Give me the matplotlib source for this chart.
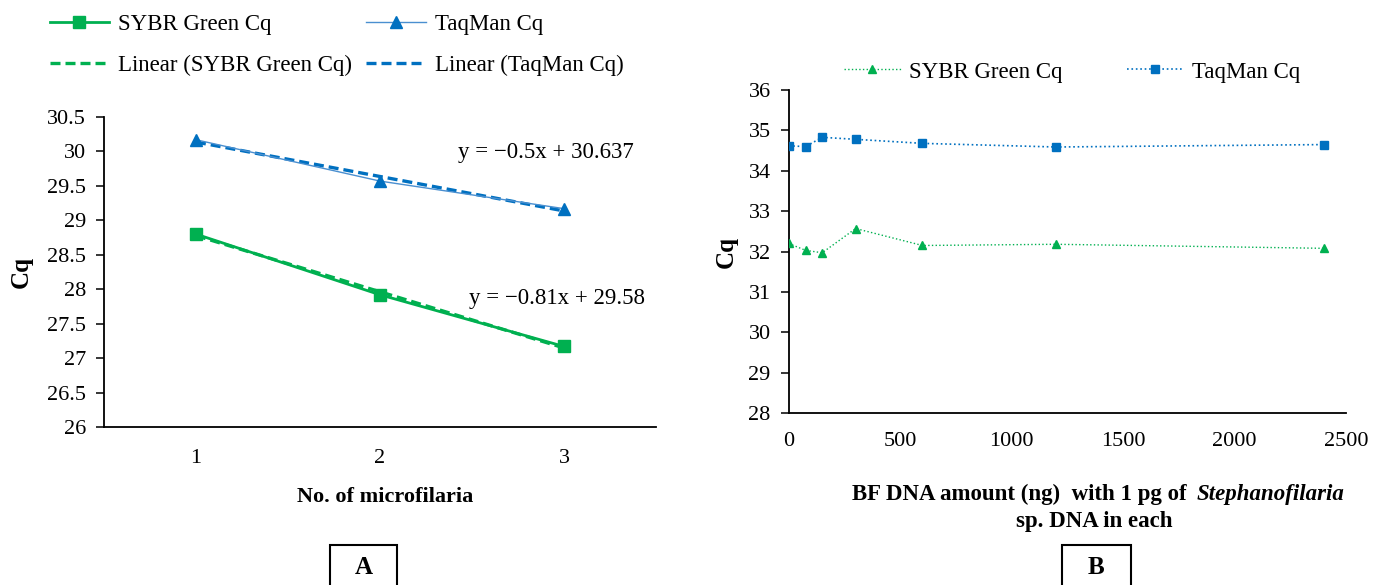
import matplotlib

matplotlib.use("Agg")
import matplotlib.pyplot as plt
import numpy as np
from matplotlib.lines import Line2D
from matplotlib.patches import Rectangle
from matplotlib.ticker import FormatStrFormatter, FuncFormatter

# panel A: Cq vs number of microfilaria
mf_count = [1, 2, 3]
sybr_a = [28.80, 27.92, 27.17]
taqman_a = [30.17, 29.57, 29.17]

# panel B: Cq vs background DNA amount
bf_dna_ng = [0, 75, 150, 300, 600, 1200, 2400]
sybr_b = [32.20, 32.03, 31.97, 32.57, 32.15, 32.18, 32.08]
taqman_b = [34.62, 34.60, 34.83, 34.78, 34.68, 34.59, 34.65]

GREEN = "#00b050"
BLUE = "#0070c0"
LIGHT_BLUE = "#4a8fd0"

plt.rcParams.update(
    {
        "font.family": ["Liberation Serif", "DejaVu Serif"],
        "font.size": 16,
        "axes.linewidth": 1.3,
        "xtick.major.width": 1.1,
        "ytick.major.width": 1.1,
    }
)

fig = plt.figure(figsize=(13.79, 5.85), dpi=100)
axA = fig.add_axes([0.0754, 0.270, 0.4003, 0.530])
axB = fig.add_axes([0.572, 0.294, 0.404, 0.552])

# ---- panel A ----
x = np.array(mf_count, dtype=float)
axA.plot(x, sybr_a, color=GREEN, lw=2.0, marker="s", ms=9, zorder=3)
axA.plot(x, taqman_a, color=LIGHT_BLUE, lw=1.0, marker="^", ms=9, mfc=BLUE, mec=BLUE, zorder=3)
fit_s = np.polyfit(x, sybr_a, 1)
fit_t = np.polyfit(x, taqman_a, 1)
axA.plot(x, np.polyval(fit_s, x), color=GREEN, lw=2.4, ls=(0, (3, 1.5)), zorder=2)
axA.plot(x, np.polyval(fit_t, x), color=BLUE, lw=2.4, ls=(0, (3, 1.5)), zorder=2)

axA.text(2.90, 29.98, "y = \u22120.5x + 30.637", ha="center", va="center", fontsize=16.5)
axA.text(2.96, 27.87, "y = \u22120.81x + 29.58", ha="center", va="center", fontsize=16.5)

axA.set_xlim(0.5, 3.5)
axA.set_ylim(26, 30.5)
axA.set_xticks(mf_count)
axA.set_yticks(np.arange(26, 30.51, 0.5))
axA.yaxis.set_major_formatter(FuncFormatter(lambda v, p: f"{v:g}"))
axA.tick_params(axis="x", length=0, pad=16)
axA.tick_params(axis="y", length=6, direction="out", pad=7)
for s in ("top", "right"):
    axA.spines[s].set_visible(False)
axA.set_ylabel("Cq", fontsize=18, fontweight="bold", labelpad=10)

handlesA = [
    Line2D([], [], color=GREEN, lw=2.0, marker="s", ms=9),
    Line2D([], [], color=GREEN, lw=2.4, ls=(0, (3, 1.5))),
    Line2D([], [], color=LIGHT_BLUE, lw=1.0, marker="^", ms=9, mfc=BLUE, mec=BLUE),
    Line2D([], [], color=BLUE, lw=2.4, ls=(0, (3, 1.5))),
]
labelsA = ["SYBR Green Cq", "Linear (SYBR Green Cq)", "TaqMan Cq", "Linear (TaqMan Cq)"]
fig.legend(
    handlesA, labelsA, ncol=2, loc="upper left", bbox_to_anchor=(0.031, 0.988),
    frameon=False, fontsize=16.5, handlelength=2.6, handletextpad=0.4,
    columnspacing=0.6, labelspacing=0.85, borderpad=0.3, borderaxespad=0,
)

fig.text(385 / 1379, 1 - 497 / 585, "No. of microfilaria", ha="center", va="center",
         fontsize=16, fontweight="bold")

# ---- panel B ----
axB.plot(bf_dna_ng, sybr_b, color=GREEN, lw=1.0, ls=":", marker="^", ms=6, zorder=3)
axB.plot(bf_dna_ng, taqman_b, color=BLUE, lw=1.2, ls=":", marker="s", ms=6, zorder=3)
axB.set_xlim(0, 2500)
axB.set_ylim(28, 36)
axB.set_xticks(np.arange(0, 2501, 500))
axB.set_yticks(np.arange(28, 36.1, 1))
axB.yaxis.set_major_formatter(FormatStrFormatter("%d"))
axB.tick_params(axis="x", length=0, pad=14)
axB.tick_params(axis="y", length=6, direction="out", pad=7)
for s in ("top", "right"):
    axB.spines[s].set_visible(False)
axB.set_ylabel("Cq", fontsize=18, fontweight="bold", labelpad=8)

handlesB = [
    Line2D([], [], color=GREEN, lw=1.0, ls=":", marker="^", ms=6),
    Line2D([], [], color=BLUE, lw=1.2, ls=":", marker="s", ms=6),
]
fig.legend(
    handlesB, ["SYBR Green Cq", "TaqMan Cq"], ncol=2, loc="center left",
    bbox_to_anchor=(823 / 1379, 1 - 72 / 585), frameon=False, fontsize=16.5,
    handlelength=2.5, handletextpad=0.35, columnspacing=2.8,
)

fig.text(1187 / 1379, 1 - 500 / 585, "BF DNA amount (ng)  with 1 pg of", ha="right",
         va="baseline", fontsize=16.5, fontweight="bold")
fig.text(1197 / 1379, 1 - 500 / 585, "Stephanofilaria", ha="left", va="baseline",
         fontsize=16.5, fontweight="bold", fontstyle="italic")
fig.text(1094 / 1379, 1 - 522 / 585, "sp. DNA in each", ha="center", va="center",
         fontsize=16.5, fontweight="bold")

# ---- panel tags ----
for x0, x1, tag in [(330, 397, "A"), (1062, 1131, "B")]:
    fig.patches.append(Rectangle((x0 / 1379, -0.05), (x1 - x0) / 1379, 0.05 + 40 / 585,
                                 transform=fig.transFigure, fill=False, lw=1.5,
                                 edgecolor="black", clip_on=False))
    fig.text((x0 + x1) / 2 / 1379, 1 - 568 / 585, tag, ha="center", va="center",
             fontsize=18, fontweight="bold")

fig.savefig("out.png", dpi=100)
